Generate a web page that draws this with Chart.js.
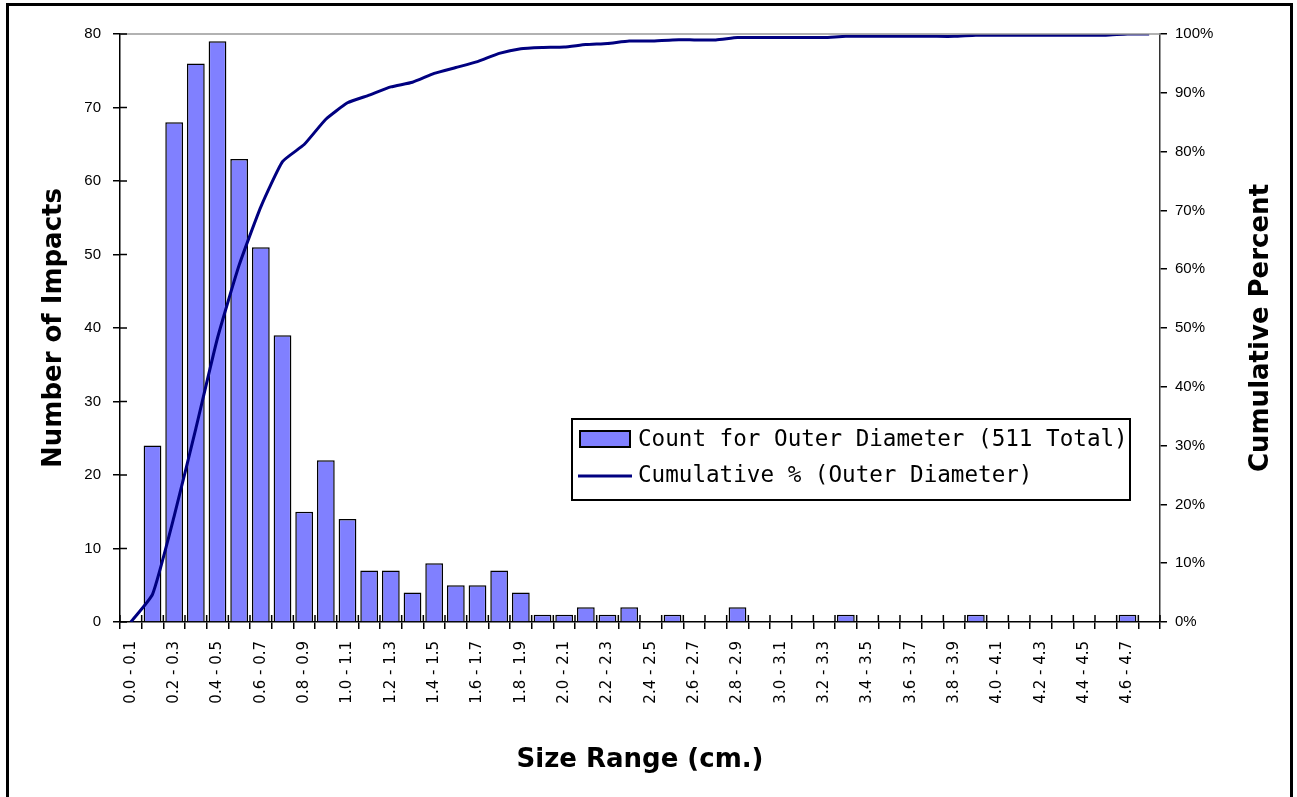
<!DOCTYPE html>
<html>
<head>
<meta charset="utf-8">
<title>Size Range (cm.)</title>
<script src="https://cdn.jsdelivr.net/npm/chart.js@4.4.1/dist/chart.umd.min.js"></script>
<style>
    body { margin: 0; background: #fff; }
    #frame { position: absolute; left: 6px; top: 3px; width: 1281px; height: 900px; border: 3px solid #000; }
    #chart { position: absolute; left: 0; top: 0; }
</style>
</head>
<body>
<div id="frame"></div>
<canvas id="chart" width="1297" height="797"></canvas>
<script>
const categories = [
    '0.0 - 0.1', '0.1 - 0.2', '0.2 - 0.3', '0.3 - 0.4', '0.4 - 0.5', '0.5 - 0.6', '0.6 - 0.7', '0.7 - 0.8',
    '0.8 - 0.9', '0.9 - 1.0', '1.0 - 1.1', '1.1 - 1.2', '1.2 - 1.3', '1.3 - 1.4', '1.4 - 1.5', '1.5 - 1.6',
    '1.6 - 1.7', '1.7 - 1.8', '1.8 - 1.9', '1.9 - 2.0', '2.0 - 2.1', '2.1 - 2.2', '2.2 - 2.3', '2.3 - 2.4',
    '2.4 - 2.5', '2.5 - 2.6', '2.6 - 2.7', '2.7 - 2.8', '2.8 - 2.9', '2.9 - 3.0', '3.0 - 3.1', '3.1 - 3.2',
    '3.2 - 3.3', '3.3 - 3.4', '3.4 - 3.5', '3.5 - 3.6', '3.6 - 3.7', '3.7 - 3.8', '3.8 - 3.9', '3.9 - 4.0',
    '4.0 - 4.1', '4.1 - 4.2', '4.2 - 4.3', '4.3 - 4.4', '4.4 - 4.5', '4.5 - 4.6', '4.6 - 4.7', '4.7 - 4.8'
];

const counts = [
    0, 24, 68, 76, 79, 63, 51, 39, 15, 22,
    14, 7, 7, 4, 8, 5, 5, 7, 4, 1,
    1, 2, 1, 2, 0, 1, 0, 0, 2, 0,
    0, 0, 0, 1, 0, 0, 0, 0, 0, 1,
    0, 0, 0, 0, 0, 0, 1, 0
];

const cumulativePct = [
    0, 4.7, 18.0, 32.9, 48.3, 60.7, 70.6, 78.3, 81.2, 85.5,
    88.3, 89.6, 91.0, 91.8, 93.3, 94.3, 95.3, 96.7, 97.5, 97.7,
    97.8, 98.2, 98.4, 98.8, 98.8, 99.0, 99.0, 99.0, 99.4, 99.4,
    99.4, 99.4, 99.4, 99.6, 99.6, 99.6, 99.6, 99.6, 99.6, 99.8,
    99.8, 99.8, 99.8, 99.8, 99.8, 99.8, 100, 100
];

const countTicks = [0, 10, 20, 30, 40, 50, 60, 70, 80];
const pctTicks = [0, 10, 20, 30, 40, 50, 60, 70, 80, 90, 100];

const barLabel = 'Count for Outer Diameter (511 Total)';
const lineLabel = 'Cumulative % (Outer Diameter)';

const tickFont = { family: 'Liberation Sans', size: 15 };
const catFont = { family: 'DejaVu Sans', size: 15 };
const titleFont = { family: 'DejaVu Sans', size: 26, weight: 'bold' };

// inner tick marks, top border, right title, legend box
const extras = {
    id: 'extras',
    afterDraw(chart) {
        const { ctx, chartArea: a, scales: { x, y } } = chart;
        const seg = (x1, y1, x2, y2) => { ctx.beginPath(); ctx.moveTo(x1, y1); ctx.lineTo(x2, y2); ctx.stroke(); };
        ctx.save();

        ctx.strokeStyle = '#999';
        ctx.lineWidth = 1.5;
        seg(a.left, a.top, a.right, a.top);

        ctx.strokeStyle = '#000';
        ctx.lineWidth = 1.5;
        countTicks.forEach(v => {
            const py = y.getPixelForValue(v);
            seg(a.left, py, a.left + 7, py);
        });
        for (let i = 0; i <= categories.length; i++) {
            const px = x.getPixelForValue(i - 0.5);
            seg(px, a.bottom, px, a.bottom - 7);
        }

        // right axis title reads bottom to top
        ctx.save();
        ctx.translate(1261, (a.top + a.bottom) / 2);
        ctx.rotate(-Math.PI / 2);
        ctx.font = 'bold 26px "DejaVu Sans"';
        ctx.fillStyle = '#000';
        ctx.textAlign = 'center';
        ctx.textBaseline = 'middle';
        ctx.fillText('Cumulative Percent', 0, 0);
        ctx.restore();

        // legend
        const ln = chart.data.datasets[0];
        const bar = chart.data.datasets[1];
        const lx = 572, ly = 419, lw = 558, lh = 81;
        ctx.fillStyle = '#fff';
        ctx.fillRect(lx, ly, lw, lh);
        ctx.strokeStyle = '#000';
        ctx.lineWidth = 2;
        ctx.strokeRect(lx, ly, lw, lh);

        ctx.fillStyle = bar.backgroundColor;
        ctx.fillRect(lx + 8, ly + 12, 50, 16);
        ctx.strokeStyle = bar.borderColor;
        ctx.lineWidth = 2;
        ctx.strokeRect(lx + 8, ly + 12, 50, 16);

        ctx.strokeStyle = ln.borderColor;
        ctx.lineWidth = ln.borderWidth;
        seg(lx + 6, ly + 57, lx + 60, ly + 57);

        ctx.fillStyle = '#000';
        ctx.font = '22.6px "DejaVu Sans Mono"';
        ctx.textAlign = 'left';
        ctx.textBaseline = 'middle';
        ctx.fillText(barLabel, lx + 66, ly + 21);
        ctx.fillText(lineLabel, lx + 66, ly + 57);
        ctx.restore();
    }
};

const ctx = document.getElementById('chart').getContext('2d');

new Chart(ctx, {
    type: 'bar',
    data: {
        labels: categories,
        datasets: [{
            type: 'line',
            label: lineLabel,
            data: cumulativePct,
            yAxisID: 'y1',
            borderColor: '#000080',
            borderWidth: 3,
            pointRadius: 0,
            tension: 0.15,
            fill: false,
            order: 0
        }, {
            label: barLabel,
            data: counts,
            yAxisID: 'y',
            backgroundColor: '#8080ff',
            borderColor: '#000',
            borderWidth: 1.5,
            barPercentage: 0.82,
            categoryPercentage: 1,
            order: 1
        }]
    },
    options: {
        responsive: false,
        animation: false,
        devicePixelRatio: 1,
        layout: { padding: { top: 34, left: 0, right: 0, bottom: 0 } },
        plugins: {
            legend: { display: false },
            tooltip: { enabled: false }
        },
        scales: {
            x: {
                offset: true,
                grid: { offset: true, drawOnChartArea: false, drawTicks: true, tickLength: 7, color: '#000', lineWidth: 1.5 },
                border: { display: true, color: '#000', width: 1.5 },
                ticks: {
                    autoSkip: false,
                    minRotation: 90,
                    maxRotation: 90,
                    padding: 12,
                    color: '#000',
                    font: catFont,
                    callback: (v, i) => (i % 2 === 0 ? categories[i] : '')
                },
                title: {
                    display: true,
                    text: 'Size Range (cm.)',
                    color: '#000',
                    font: titleFont,
                    padding: { top: 0, bottom: 21 }
                },
                afterFit: s => { s.height = 175; }
            },
            y: {
                position: 'left',
                min: 0,
                max: 80,
                afterBuildTicks: s => { s.ticks = countTicks.map(v => ({ value: v })); },
                grid: { drawOnChartArea: false, tickLength: 7, color: '#000', lineWidth: 1.5 },
                border: { display: true, color: '#000', width: 1.5 },
                ticks: { color: '#000', font: tickFont, padding: 12 },
                title: {
                    display: true,
                    text: 'Number of Impacts',
                    color: '#000',
                    font: titleFont,
                    padding: { top: 39, bottom: 0 }
                },
                afterFit: s => { s.width = 120; }
            },
            y1: {
                position: 'right',
                min: 0,
                max: 100,
                afterBuildTicks: s => { s.ticks = pctTicks.map(v => ({ value: v })); },
                grid: { drawOnChartArea: false, tickLength: 7, color: '#000', lineWidth: 1.5 },
                border: { display: true, color: '#333', width: 1.5 },
                ticks: { color: '#000', font: tickFont, padding: 8, callback: v => v + '%' },
                afterFit: s => { s.width = 137; }
            }
        }
    },
    plugins: [extras]
});
</script>
</body>
</html>
